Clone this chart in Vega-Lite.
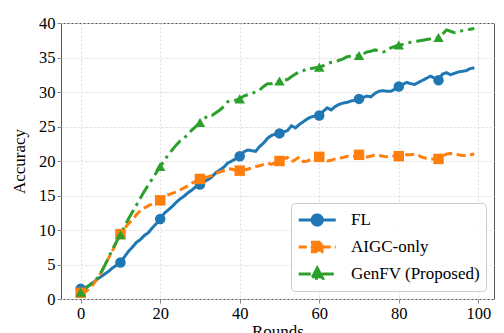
{
  "$schema": "https://vega.github.io/schema/vega-lite/v6.json",
  "width": 433,
  "height": 276,
  "autosize": "none",
  "padding": {"left": 61, "top": 23, "right": 10, "bottom": 34},
  "config": {"font": "Liberation Serif", "view": {"stroke": "#555", "strokeWidth": 1}},
  "data": {"values": [
    {"Round":0,"FL":1.5,"AIGC-only":0.9,"GenFV (Proposed)":1.0},
    {"Round":1,"FL":1.6,"AIGC-only":1.0,"GenFV (Proposed)":1.5},
    {"Round":2,"FL":1.9,"AIGC-only":1.4,"GenFV (Proposed)":1.9},
    {"Round":3,"FL":2.3,"AIGC-only":2.0,"GenFV (Proposed)":2.4},
    {"Round":4,"FL":2.8,"AIGC-only":2.8,"GenFV (Proposed)":2.9},
    {"Round":5,"FL":3.2,"AIGC-only":3.7,"GenFV (Proposed)":3.7},
    {"Round":6,"FL":3.6,"AIGC-only":4.8,"GenFV (Proposed)":4.8},
    {"Round":7,"FL":4.0,"AIGC-only":5.9,"GenFV (Proposed)":6.0},
    {"Round":8,"FL":4.5,"AIGC-only":7.0,"GenFV (Proposed)":7.2},
    {"Round":9,"FL":4.9,"AIGC-only":8.2,"GenFV (Proposed)":8.3},
    {"Round":10,"FL":5.3,"AIGC-only":9.4,"GenFV (Proposed)":9.3},
    {"Round":11,"FL":6.1,"AIGC-only":10.2,"GenFV (Proposed)":10.5},
    {"Round":12,"FL":6.9,"AIGC-only":10.9,"GenFV (Proposed)":11.6},
    {"Round":13,"FL":7.5,"AIGC-only":11.5,"GenFV (Proposed)":12.6},
    {"Round":14,"FL":8.2,"AIGC-only":12.2,"GenFV (Proposed)":13.6},
    {"Round":15,"FL":8.6,"AIGC-only":12.8,"GenFV (Proposed)":14.6},
    {"Round":16,"FL":9.2,"AIGC-only":13.2,"GenFV (Proposed)":15.6},
    {"Round":17,"FL":9.6,"AIGC-only":13.5,"GenFV (Proposed)":16.5},
    {"Round":18,"FL":10.3,"AIGC-only":13.8,"GenFV (Proposed)":17.4},
    {"Round":19,"FL":10.9,"AIGC-only":14.0,"GenFV (Proposed)":18.3},
    {"Round":20,"FL":11.6,"AIGC-only":14.3,"GenFV (Proposed)":19.2},
    {"Round":21,"FL":12.4,"AIGC-only":14.7,"GenFV (Proposed)":20.0},
    {"Round":22,"FL":12.9,"AIGC-only":15.1,"GenFV (Proposed)":20.9},
    {"Round":23,"FL":13.4,"AIGC-only":15.3,"GenFV (Proposed)":21.6},
    {"Round":24,"FL":14.0,"AIGC-only":15.5,"GenFV (Proposed)":22.3},
    {"Round":25,"FL":14.5,"AIGC-only":15.8,"GenFV (Proposed)":22.9},
    {"Round":26,"FL":14.9,"AIGC-only":16.1,"GenFV (Proposed)":23.3},
    {"Round":27,"FL":15.4,"AIGC-only":16.4,"GenFV (Proposed)":23.9},
    {"Round":28,"FL":15.8,"AIGC-only":16.8,"GenFV (Proposed)":24.5},
    {"Round":29,"FL":16.3,"AIGC-only":17.1,"GenFV (Proposed)":25.0},
    {"Round":30,"FL":16.6,"AIGC-only":17.4,"GenFV (Proposed)":25.6},
    {"Round":31,"FL":17.0,"AIGC-only":17.6,"GenFV (Proposed)":26.1},
    {"Round":32,"FL":17.3,"AIGC-only":17.7,"GenFV (Proposed)":26.6},
    {"Round":33,"FL":17.7,"AIGC-only":17.9,"GenFV (Proposed)":26.6},
    {"Round":34,"FL":18.3,"AIGC-only":18.2,"GenFV (Proposed)":27.0},
    {"Round":35,"FL":18.7,"AIGC-only":18.4,"GenFV (Proposed)":27.4},
    {"Round":36,"FL":19.1,"AIGC-only":18.6,"GenFV (Proposed)":27.9},
    {"Round":37,"FL":19.7,"AIGC-only":18.9,"GenFV (Proposed)":28.6},
    {"Round":38,"FL":20.0,"AIGC-only":18.8,"GenFV (Proposed)":28.8},
    {"Round":39,"FL":20.3,"AIGC-only":18.7,"GenFV (Proposed)":28.8},
    {"Round":40,"FL":20.7,"AIGC-only":18.6,"GenFV (Proposed)":29.0},
    {"Round":41,"FL":21.3,"AIGC-only":18.7,"GenFV (Proposed)":29.4},
    {"Round":42,"FL":21.6,"AIGC-only":18.8,"GenFV (Proposed)":29.6},
    {"Round":43,"FL":21.5,"AIGC-only":19.0,"GenFV (Proposed)":29.8},
    {"Round":44,"FL":21.4,"AIGC-only":19.2,"GenFV (Proposed)":30.0},
    {"Round":45,"FL":22.1,"AIGC-only":19.3,"GenFV (Proposed)":30.3},
    {"Round":46,"FL":22.6,"AIGC-only":19.5,"GenFV (Proposed)":30.8},
    {"Round":47,"FL":23.3,"AIGC-only":19.7,"GenFV (Proposed)":31.2},
    {"Round":48,"FL":23.7,"AIGC-only":19.5,"GenFV (Proposed)":31.2},
    {"Round":49,"FL":23.9,"AIGC-only":19.8,"GenFV (Proposed)":31.4},
    {"Round":50,"FL":24.0,"AIGC-only":20.0,"GenFV (Proposed)":31.6},
    {"Round":51,"FL":24.2,"AIGC-only":20.3,"GenFV (Proposed)":31.7},
    {"Round":52,"FL":24.4,"AIGC-only":20.5,"GenFV (Proposed)":31.8},
    {"Round":53,"FL":25.1,"AIGC-only":19.9,"GenFV (Proposed)":32.2},
    {"Round":54,"FL":24.8,"AIGC-only":20.2,"GenFV (Proposed)":32.6},
    {"Round":55,"FL":25.3,"AIGC-only":20.6,"GenFV (Proposed)":32.9},
    {"Round":56,"FL":25.7,"AIGC-only":19.9,"GenFV (Proposed)":33.1},
    {"Round":57,"FL":26.1,"AIGC-only":20.0,"GenFV (Proposed)":33.4},
    {"Round":58,"FL":26.4,"AIGC-only":20.2,"GenFV (Proposed)":33.4},
    {"Round":59,"FL":26.5,"AIGC-only":20.4,"GenFV (Proposed)":33.5},
    {"Round":60,"FL":26.6,"AIGC-only":20.6,"GenFV (Proposed)":33.6},
    {"Round":61,"FL":27.2,"AIGC-only":20.3,"GenFV (Proposed)":33.8},
    {"Round":62,"FL":27.7,"AIGC-only":20.0,"GenFV (Proposed)":34.1},
    {"Round":63,"FL":27.4,"AIGC-only":20.1,"GenFV (Proposed)":34.3},
    {"Round":64,"FL":27.9,"AIGC-only":20.3,"GenFV (Proposed)":34.4},
    {"Round":65,"FL":28.2,"AIGC-only":20.4,"GenFV (Proposed)":34.6},
    {"Round":66,"FL":28.4,"AIGC-only":20.5,"GenFV (Proposed)":34.8},
    {"Round":67,"FL":28.5,"AIGC-only":20.7,"GenFV (Proposed)":35.1},
    {"Round":68,"FL":28.7,"AIGC-only":20.6,"GenFV (Proposed)":35.2},
    {"Round":69,"FL":28.8,"AIGC-only":20.7,"GenFV (Proposed)":35.2},
    {"Round":70,"FL":29.0,"AIGC-only":20.9,"GenFV (Proposed)":35.3},
    {"Round":71,"FL":29.2,"AIGC-only":20.8,"GenFV (Proposed)":35.5},
    {"Round":72,"FL":29.4,"AIGC-only":20.6,"GenFV (Proposed)":35.8},
    {"Round":73,"FL":29.3,"AIGC-only":20.7,"GenFV (Proposed)":35.9},
    {"Round":74,"FL":29.8,"AIGC-only":20.9,"GenFV (Proposed)":36.1},
    {"Round":75,"FL":30.1,"AIGC-only":20.8,"GenFV (Proposed)":36.0},
    {"Round":76,"FL":30.2,"AIGC-only":20.7,"GenFV (Proposed)":35.8},
    {"Round":77,"FL":30.1,"AIGC-only":20.6,"GenFV (Proposed)":35.9},
    {"Round":78,"FL":30.1,"AIGC-only":20.6,"GenFV (Proposed)":36.4},
    {"Round":79,"FL":30.4,"AIGC-only":20.8,"GenFV (Proposed)":36.6},
    {"Round":80,"FL":30.8,"AIGC-only":20.7,"GenFV (Proposed)":36.8},
    {"Round":81,"FL":31.1,"AIGC-only":21.0,"GenFV (Proposed)":36.9},
    {"Round":82,"FL":31.4,"AIGC-only":20.9,"GenFV (Proposed)":37.1},
    {"Round":83,"FL":31.2,"AIGC-only":20.9,"GenFV (Proposed)":37.2},
    {"Round":84,"FL":31.1,"AIGC-only":21.0,"GenFV (Proposed)":37.3},
    {"Round":85,"FL":31.4,"AIGC-only":20.8,"GenFV (Proposed)":37.4},
    {"Round":86,"FL":31.7,"AIGC-only":20.5,"GenFV (Proposed)":37.5},
    {"Round":87,"FL":32.0,"AIGC-only":20.4,"GenFV (Proposed)":37.6},
    {"Round":88,"FL":32.3,"AIGC-only":20.3,"GenFV (Proposed)":37.7},
    {"Round":89,"FL":32.0,"AIGC-only":20.3,"GenFV (Proposed)":37.8},
    {"Round":90,"FL":31.7,"AIGC-only":20.3,"GenFV (Proposed)":37.9},
    {"Round":91,"FL":32.6,"AIGC-only":20.7,"GenFV (Proposed)":38.4},
    {"Round":92,"FL":32.8,"AIGC-only":21.0,"GenFV (Proposed)":39.0},
    {"Round":93,"FL":32.5,"AIGC-only":21.1,"GenFV (Proposed)":38.8},
    {"Round":94,"FL":32.7,"AIGC-only":21.0,"GenFV (Proposed)":38.6},
    {"Round":95,"FL":32.9,"AIGC-only":20.9,"GenFV (Proposed)":38.7},
    {"Round":96,"FL":33.0,"AIGC-only":20.8,"GenFV (Proposed)":38.9},
    {"Round":97,"FL":33.1,"AIGC-only":20.8,"GenFV (Proposed)":39.0},
    {"Round":98,"FL":33.4,"AIGC-only":20.9,"GenFV (Proposed)":39.1},
    {"Round":99,"FL":33.5,"AIGC-only":21.0,"GenFV (Proposed)":39.2}
  ]},
  "transform": [{"fold": ["FL", "AIGC-only", "GenFV (Proposed)"], "as": ["Method", "Accuracy"]}],
  "encoding": {
    "x": {"field": "Round", "type": "quantitative",
      "scale": {"domain": [-4.95, 103.95], "nice": false, "zero": false},
      "axis": {"values": [0, 20, 40, 60, 80, 100], "title": "Rounds", "titleFont": "Liberation Serif", "titleFontSize": 17, "titleFontWeight": "normal", "titleColor": "#000", "titlePadding": 2,
        "labelFont": "Liberation Serif", "labelFontSize": 16.5, "labelColor": "#000", "labelPadding": 2, "labelFlush": false, "tickSize": 4, "tickColor": "#888", "domain": false,
        "grid": true, "gridColor": "#dcdcdc", "gridDash": [2, 2], "gridWidth": 1}},
    "y": {"field": "Accuracy", "type": "quantitative",
      "scale": {"domain": [0, 40], "nice": false},
      "axis": {"values": [0, 5, 10, 15, 20, 25, 30, 35, 40], "title": "Accuracy", "titleFont": "Liberation Serif", "titleFontSize": 17, "titleFontWeight": "normal", "titleColor": "#000", "titlePadding": 10,
        "labelFont": "Liberation Serif", "labelFontSize": 16.5, "labelColor": "#000", "labelPadding": 2, "labelFlush": false, "tickSize": 4, "tickColor": "#888", "domain": false,
        "grid": true, "gridColor": "#dcdcdc", "gridDash": [2, 2], "gridWidth": 1}},
    "color": {"field": "Method", "type": "nominal",
      "scale": {"domain": ["FL", "AIGC-only", "GenFV (Proposed)"], "range": ["#1f77b4", "#ff7f0e", "#2ca02c"]},
      "legend": {"title": null, "orient": "bottom-right", "offset": 8, "fillColor": "rgba(255,255,255,0.85)", "strokeColor": "#cccccc", "cornerRadius": 4, "padding": 6,
        "labelFont": "Liberation Serif", "labelFontSize": 17, "labelColor": "#000", "symbolSize": 342, "symbolStrokeWidth": 3, "rowPadding": 4, "labelOffset": 32,
        "encode": {"symbols": {"update": {
          "shape": {"signal": "datum.value === 'FL' ? 'M-1,0H3M0.45,0A0.55,0.55,0,1,0,1.55,0A0.55,0.55,0,1,0,0.45,0Z' : datum.value === 'AIGC-only' ? 'M-1,0H3M0.48,-0.52H1.52V0.52H0.48Z' : 'M-1,0H3M1,-0.62L1.58,0.46H0.42Z'"},
          "strokeDash": {"signal": "datum.value === 'FL' ? [1,0] : datum.value === 'AIGC-only' ? [8,4] : [12,4,3,4]"},
          "stroke": {"signal": "scale('color', datum.value)"},
          "fill": {"signal": "scale('color', datum.value)"},
          "strokeWidth": {"value": 3},
          "opacity": {"value": 1},
          "fillOpacity": {"value": 1}
        }}}}}
  },
  "layer": [
    {"mark": {"type": "line", "strokeWidth": 3, "clip": true},
     "encoding": {"strokeDash": {"condition": [{"test": "datum.Method === 'AIGC-only'", "value": [9, 4.5]}, {"test": "datum.Method === 'GenFV (Proposed)'", "value": [15, 5, 3, 5]}], "value": [1, 0]}}},
    {"transform": [{"filter": "datum.Round % 10 == 0"}],
     "mark": {"type": "point", "filled": true, "opacity": 1, "size": 110},
     "encoding": {"shape": {"condition": [{"test": "datum.Method === 'AIGC-only'", "value": "square"}, {"test": "datum.Method === 'GenFV (Proposed)'", "value": "triangle-up"}], "value": "circle"}}}
  ]
}
